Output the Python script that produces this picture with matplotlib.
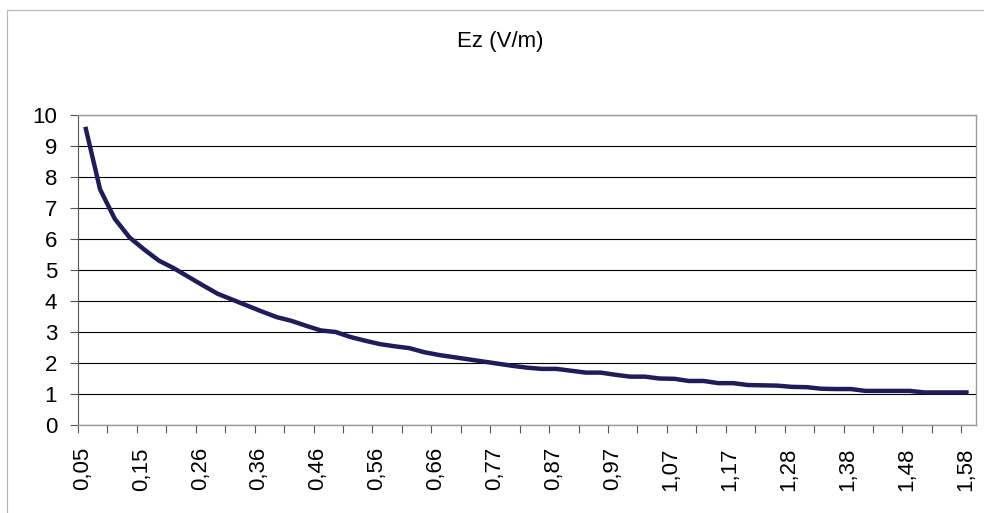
import matplotlib
matplotlib.use("Agg")
import matplotlib.pyplot as plt
import matplotlib.transforms as mtransforms
from matplotlib.patches import Rectangle

plt.rcParams['font.family'] = ['Liberation Sans', 'DejaVu Sans']

title = "Ez (V/m)"
tick_labels = ["0,05", "0,15", "0,26", "0,36", "0,46", "0,56", "0,66", "0,77",
               "0,87", "0,97", "1,07", "1,17", "1,28", "1,38", "1,48", "1,58"]
label_step = 4
ez_values = [9.62, 7.60, 6.65, 6.05, 5.66, 5.30, 5.06, 4.78, 4.50, 4.23,
             4.04, 3.85, 3.66, 3.48, 3.36, 3.20, 3.05, 3.00, 2.84, 2.72,
             2.61, 2.54, 2.48, 2.35, 2.26, 2.19, 2.12, 2.05, 1.98, 1.91,
             1.85, 1.81, 1.81, 1.75, 1.69, 1.69, 1.62, 1.56, 1.56, 1.50,
             1.49, 1.42, 1.42, 1.35, 1.35, 1.29, 1.28, 1.27, 1.23, 1.22,
             1.17, 1.16, 1.16, 1.10, 1.10, 1.10, 1.10, 1.05, 1.05, 1.05,
             1.05]
y_ticks = list(range(0, 11))

W, H = 984, 513
fig = plt.figure(figsize=(W / 100, H / 100), dpi=100)

# outer chart frame
fig.patches.append(Rectangle((7 / W, -0.1), 1.2, (H - 9.5) / H + 0.1,
                             transform=fig.transFigure, fill=False,
                             edgecolor='#b4b4b4', linewidth=0.8))

ax = fig.add_axes([78 / W, (H - 425) / H, (976 - 78) / W, (425 - 115) / H])

n = len(ez_values)
idx = list(range(n))
ax.plot(idx, ez_values, color='#201c5a', linewidth=3.2, solid_joinstyle='round',
        solid_capstyle='butt', zorder=3)

ax.set_xlim(-0.5, n - 0.5)
ax.set_ylim(0, 10)

# gridlines
ax.set_yticks(y_ticks)
ax.yaxis.grid(True, color='black', linewidth=0.8)
ax.set_axisbelow(True)

# y tick labels
ax.set_yticklabels([str(v) for v in y_ticks], fontsize=16)
ax.tick_params(axis='y', direction='out', length=6, width=0.8, color='#555555',
               pad=9, labelcolor='black')

# x axis: labels every 4 categories, tick marks at category boundaries every 2
major_pos = idx[::label_step]
ax.set_xticks(major_pos)
ax.set_xticklabels(tick_labels, rotation=90, fontsize=16)
ax.set_xticks([i - 0.5 for i in range(0, n, 2)], minor=True)
ax.tick_params(axis='x', which='major', length=0, pad=16, labelcolor='black')
ax.tick_params(axis='x', which='minor', direction='out', length=6, width=0.8,
               color='#555555')
offset = mtransforms.ScaledTranslation(-3 / 100, 0, fig.dpi_scale_trans)
for lbl in ax.get_xticklabels():
    lbl.set_transform(lbl.get_transform() + offset)

for side in ['top', 'right', 'bottom']:
    ax.spines[side].set_color('#9a9a9a')
    ax.spines[side].set_linewidth(1.0)
ax.spines['left'].set_color('#555555')
ax.spines['left'].set_linewidth(0.8)

fig.text(500 / W, (H - 42) / H, title, ha='center', va='center', fontsize=16)

fig.savefig("out.png", dpi=100)
